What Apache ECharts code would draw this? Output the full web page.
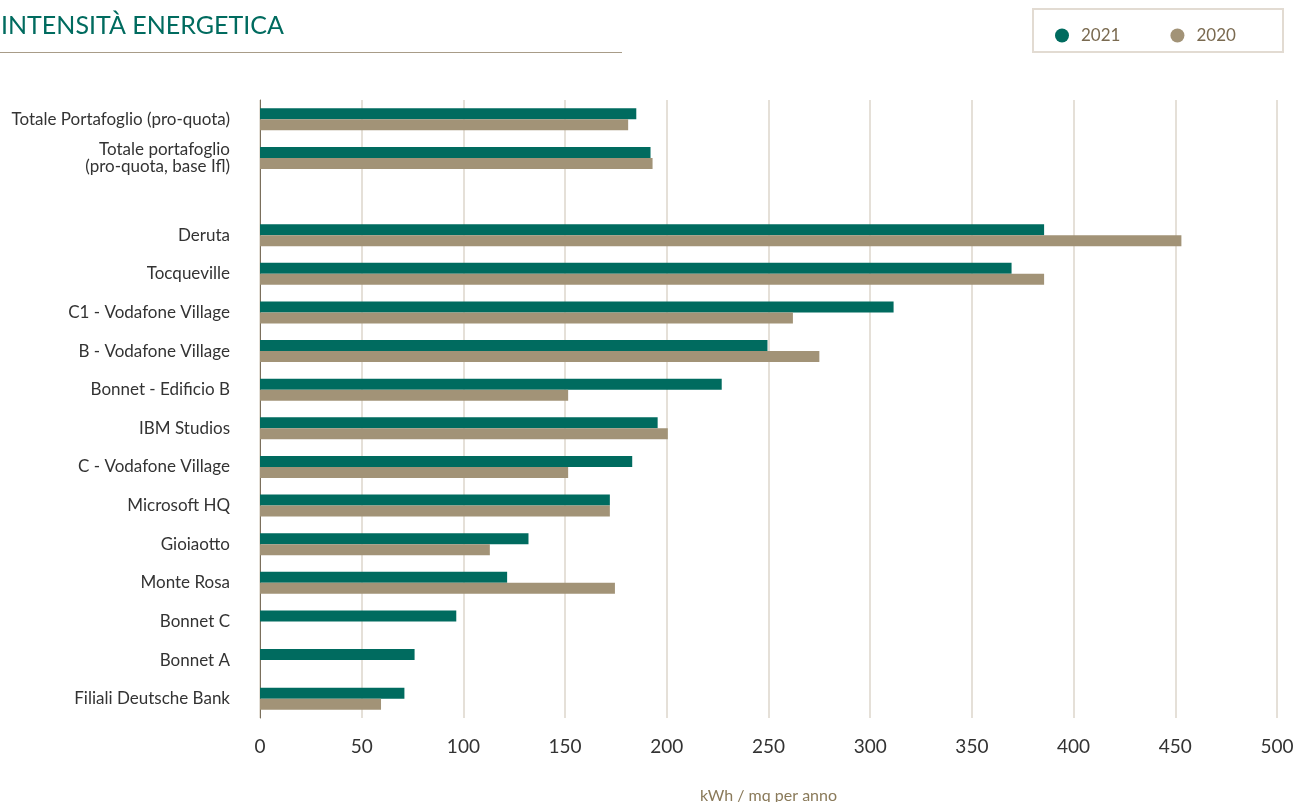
<!DOCTYPE html>
<html>
<head>
<meta charset="utf-8">
<script src="https://cdn.jsdelivr.net/npm/echarts@6/dist/echarts.min.js"></script>
<style>
html,body{margin:0;padding:0;background:#fff;}
#chart{width:1306px;height:802px;}
</style>
</head>
<body>
<div id="chart"></div>
<script>
const categories = [
  'Totale Portafoglio (pro-quota)',
  'Totale portafoglio\n(pro-quota, base Ifl)',
  '',
  'Deruta',
  'Tocqueville',
  'C1 - Vodafone Village',
  'B - Vodafone Village',
  'Bonnet - Edificio B',
  'IBM Studios',
  'C - Vodafone Village',
  'Microsoft HQ',
  'Gioiaotto',
  'Monte Rosa',
  'Bonnet C',
  'Bonnet A',
  'Filiali Deutsche Bank'
];
const values2021 = [185, 192, null, 385.5, 369.5, 311.5, 249.5, 227, 195.5, 183, 172, 132, 121.5, 96.5, 76, 71];
const values2020 = [181, 193, null, 453, 385.5, 262, 275, 151.5, 200.5, 151.5, 172, 113, 174.5, null, null, 59.5];
const xTicks = [0, 50, 100, 150, 200, 250, 300, 350, 400, 450, 500];

const FONT = 'Lato, "Open Sans", sans-serif';
const chart = echarts.init(document.getElementById('chart'), null, {renderer: 'canvas'});
chart.setOption({
  animation: false,
  textStyle: {fontFamily: FONT},
  title: {
    text: 'INTENSITÀ ENERGETICA',
    left: -4, top: 8,
    textStyle: {fontFamily: FONT, fontSize: 25, fontWeight: 'normal', color: '#006b5f'}
  },
  graphic: [
    {type: 'line', shape: {x1: 0, y1: 52.5, x2: 622, y2: 52.5}, style: {stroke: '#a89c88', lineWidth: 1}},
    {type: 'rect', shape: {x: 1033, y: 9, width: 250, height: 43}, style: {fill: 'none', stroke: '#e2dbd2', lineWidth: 2}}
  ],
  legend: {
    data: ['2021', '2020'],
    left: 1050, top: 22,
    icon: 'circle', itemWidth: 14, itemHeight: 14, itemGap: 50,
    textStyle: {fontFamily: FONT, fontSize: 17, color: '#7a6a50', padding: [0, 0, 0, 7]}
  },
  grid: {left: 260, right: 29, top: 100, bottom: 84, containLabel: false, outerBoundsMode: 'none'},
  xAxis: {
    type: 'value', min: 0, max: 500, interval: 50,
    name: 'kWh / mq per anno', nameLocation: 'middle', nameGap: 70,
    nameTextStyle: {fontFamily: FONT, fontSize: 16, color: '#8a7a5a'},
    axisLine: {show: false}, axisTick: {show: false},
    axisLabel: {fontFamily: FONT, fontSize: 19, color: '#333', margin: 19,
      formatter: v => xTicks.includes(v) ? String(v) : ''},
    splitLine: {show: true, lineStyle: {color: '#ddd6cb', width: 1.5}}
  },
  yAxis: {
    type: 'category', data: categories, inverse: true,
    axisLine: {show: true, lineStyle: {color: '#7a6f5c', width: 1}},
    axisTick: {show: false},
    axisLabel: {fontFamily: FONT, fontSize: 17, color: '#333', margin: 30, lineHeight: 17, align: 'right', padding: [7, 0, 0, 0]}
  },
  series: [
    {name: '2021', type: 'bar', data: values2021, barWidth: 11, barGap: '0%', itemStyle: {color: '#006b5f'}},
    {name: '2020', type: 'bar', data: values2020, barWidth: 11, barGap: '0%', itemStyle: {color: '#a29377'}}
  ]
});
</script>
</body>
</html>
